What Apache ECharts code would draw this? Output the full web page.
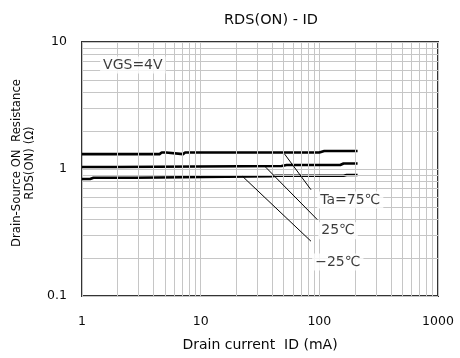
<!DOCTYPE html>
<html>
<head>
<meta charset="utf-8">
<script src="https://cdn.jsdelivr.net/npm/echarts@6/dist/echarts.min.js"></script>
<style>
  html, body { margin: 0; padding: 0; background: #fff; }
  #chart { width: 460px; height: 358px; }
</style>
</head>
<body>
<div id="chart"></div>
<script>
// Axis ticks (log scale) and the minor grid decades
const xTicks = [1, 10, 100, 1000];
const yTicks = [0.1, 1, 10];
const xMinorGrid = [2, 3, 4, 5, 6, 7, 8, 9, 20, 30, 40, 50, 60, 70, 80, 90, 200, 300, 400, 500, 600, 700, 800, 900];
const yMinorGrid = [0.2, 0.3, 0.4, 0.5, 0.6, 0.7, 0.8, 0.9, 2, 3, 4, 5, 6, 7, 8, 9];

// Drain current ID (mA) vs on-resistance RDS(ON) (Ω), VGS = 4 V
const id75 = [1, 4.5, 4.7, 5.1, 5.3, 7.1, 7.4, 8.1, 8.4, 9, 100, 110, 210];
const r75  = [1.31, 1.31, 1.35, 1.35, 1.31, 1.31, 1.35, 1.35, 1.33, 1.35, 1.35, 1.385, 1.385];

const id25 = [1, 1.9, 1.96, 48, 53, 150, 160, 210];
const r25  = [1.037, 1.037, 1.056, 1.056, 1.075, 1.075, 1.105, 1.105];

const idM25 = [1, 1.17, 1.25, 2.8, 2.9, 40, 43, 160, 170, 210];
const rM25  = [0.834, 0.834, 0.854, 0.854, 0.876, 0.876, 0.886, 0.886, 0.898, 0.898];

// Leader lines from each curve to its temperature label
const leader75  = [[51, 1.31], [85, 0.687]];
const leader25  = [[34.5, 1.056], [96, 0.40]];
const leaderM25 = [[22.5, 0.876], [85, 0.27]];

// Annotation anchors (left edge / vertical centre of each text)
const tempLabels = [
  { text: 'Ta=75℃', at: [96, 0.57] },
  { text: '25℃',    at: [98, 0.327] },
  { text: '−25℃',   at: [87, 0.185] }
];
const biasLabel = { text: 'VGS=4V', at: [1.42, 6.6] };

const FONT = "'DejaVu Sans', 'Noto Sans CJK JP', sans-serif";
const GRID_COLOR = '#c6c6c6';
const INK = '#0a0a0a';

const zip = (xs, ys) => xs.map((x, i) => [x, ys[i]]);

const curve = (data) => ({
  type: 'line',
  data: data,
  showSymbol: false,
  symbol: 'none',
  silent: true,
  z: 4,
  lineStyle: { color: '#000', width: 2.6, join: 'round' }
});

const leader = (data) => ({
  type: 'line',
  data: data,
  showSymbol: false,
  symbol: 'none',
  silent: true,
  z: 5,
  lineStyle: { color: '#000', width: 1 }
});

const textMark = (item, size) => ({
  type: 'scatter',
  data: [item.at],
  symbolSize: 0,
  silent: true,
  z: 6,
  label: {
    show: true,
    position: 'right',
    distance: 0,
    formatter: item.text,
    color: INK,
    fontFamily: FONT,
    fontSize: size,
    backgroundColor: '#fff',
    padding: [2, 3, 1, 3]
  }
});

const tickFormatter = (ticks) => (v) =>
  ticks.some(t => Math.abs(t - v) / t < 1e-6) ? String(+v.toPrecision(6)) : '';

const chart = echarts.init(document.getElementById('chart'), null, { renderer: 'canvas' });

chart.setOption({
  animation: false,
  backgroundColor: '#fff',
  title: {
    text: 'RDS(ON) - ID',
    left: 266,
    top: 8,
    textAlign: 'center',
    textStyle: { fontFamily: FONT, fontSize: 14.5, fontWeight: 'normal', color: INK }
  },
  grid: {
    left: 82, right: 22, top: 42, bottom: 62,
    show: true,
    borderColor: '#333',
    borderWidth: 2,
    backgroundColor: 'transparent'
  },
  xAxis: {
    type: 'log',
    logBase: 10,
    min: 1,
    max: 1000,
    name: 'Drain current  ID (mA)',
    nameLocation: 'middle',
    nameGap: 42,
    nameTextStyle: { fontFamily: FONT, fontSize: 14, color: INK },
    axisLine: { show: false },
    axisTick: { show: false },
    axisLabel: {
      margin: 19,
      fontFamily: FONT,
      fontSize: 12.5,
      color: INK,
      formatter: tickFormatter(xTicks)
    },
    splitLine: { show: true, lineStyle: { color: GRID_COLOR, width: 1 } }
  },
  yAxis: {
    type: 'log',
    logBase: 10,
    min: 0.1,
    max: 10,
    name: 'Drain-Source ON  Resistance\nRDS(ON) (Ω)',
    nameLocation: 'middle',
    nameGap: 41,
    nameRotate: 90,
    nameTextStyle: {
      fontFamily: FONT, fontSize: 11.7, color: INK, lineHeight: 13, align: 'center',
      padding: [0, 0, 0, 12]
    },
    axisLine: { show: false },
    axisTick: { show: false },
    axisLabel: {
      margin: 15,
      fontFamily: FONT,
      fontSize: 12.5,
      color: INK,
      formatter: tickFormatter(yTicks)
    },
    splitLine: { show: true, lineStyle: { color: GRID_COLOR, width: 1 } }
  },
  series: [
    {
      // minor decade grid (2..9 in each decade)
      type: 'line',
      data: [],
      silent: true,
      z: 1,
      markLine: {
        silent: true,
        symbol: 'none',
        label: { show: false },
        animation: false,
        lineStyle: { color: GRID_COLOR, width: 1, type: 'solid' },
        data: [
          ...xMinorGrid.map(v => ({ xAxis: v })),
          ...yMinorGrid.map(v => ({ yAxis: v }))
        ]
      }
    },
    curve(zip(id75, r75)),
    curve(zip(id25, r25)),
    curve(zip(idM25, rM25)),
    leader(leader75),
    leader(leader25),
    leader(leaderM25),
    ...tempLabels.map(t => textMark(t, 14)),
    textMark(biasLabel, 14)
  ]
});
</script>
</body>
</html>
